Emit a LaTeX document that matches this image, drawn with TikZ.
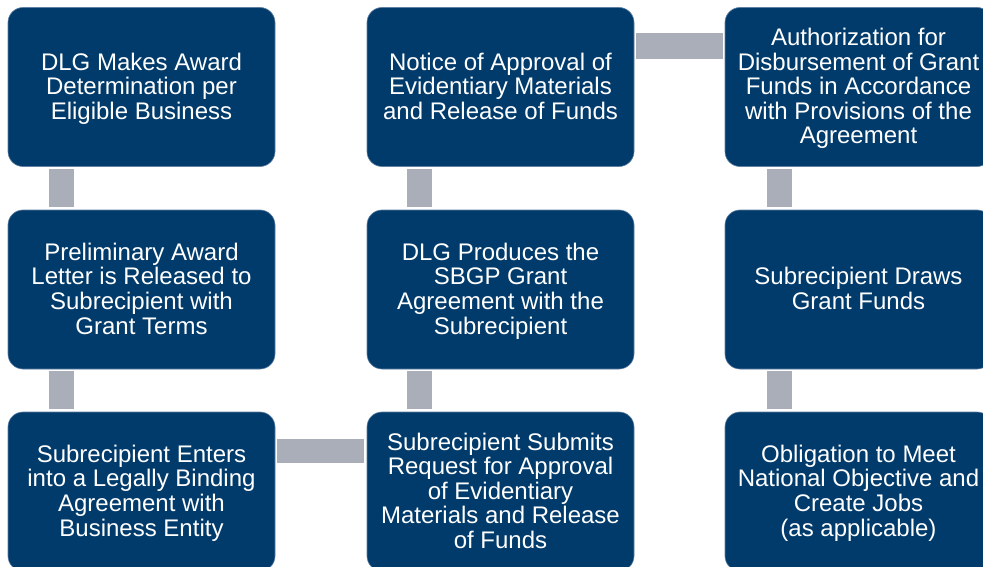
\documentclass[tikz,border=0pt]{standalone}
\usepackage{fontspec}
\setmainfont{Liberation Sans}
\definecolor{navy}{HTML}{003B6B}
\definecolor{navyedge}{HTML}{5F7FA3}
\definecolor{linkgray}{HTML}{A9AEB8}
\tikzset{
  stepbox/.style={rectangle, rounded corners=15pt, fill=navy, draw=navyedge,
    line width=0.6pt, minimum width=267pt, minimum height=159pt, inner sep=0pt},
  steptext/.style={text=white, align=center, inner sep=0pt,
    font=\fontsize{24pt}{24.6pt}\selectfont,
    execute at begin node=\strut, execute at end node=\strut},
  link/.style={draw=linkgray, line width=25pt, line cap=butt}
}
\begin{document}
\begin{tikzpicture}[x=1pt, y=-1pt]
  \clip (0,0) rectangle (983,567);
  \fill[white] (0,0) rectangle (983,567);

  % column 1
  \node[stepbox] (a1) at (141.5,87) {};
  \node[stepbox] (a2) at (141.5,289.5) {};
  \node[stepbox] (a3) at (141.5,491.5) {};
  % column 2
  \node[stepbox] (b1) at (500.5,87) {};
  \node[stepbox] (b2) at (500.5,289.5) {};
  \node[stepbox] (b3) at (500.5,491.5) {};
  % column 3
  \node[stepbox] (c1) at (858.5,87) {};
  \node[stepbox] (c2) at (858.5,289.5) {};
  \node[stepbox] (c3) at (858.5,491.5) {};

  % box labels (struts keep every block the same height per line count)
  \node[steptext] (ta1) at ([yshift=-2.7pt]a1.center) {DLG Makes Award\\Determination per\\Eligible Business};
  \node[steptext] (ta2) at ([yshift=-2.7pt]a2.center) {Preliminary Award\\Letter is Released to\\Subrecipient with\\Grant Terms};
  \node[steptext] (ta3) at ([yshift=-2.7pt]a3.center) {Subrecipient Enters\\into a Legally Binding\\Agreement with\\Business Entity};
  \node[steptext] (tb1) at ([yshift=-2.7pt]b1.center) {Notice of Approval of\\Evidentiary Materials\\and Release of Funds};
  \node[steptext] (tb2) at ([yshift=-2.7pt]b2.center) {DLG Produces the\\SBGP Grant\\Agreement with the\\Subrecipient};
  \node[steptext] (tb3) at ([yshift=-2.7pt]b3.center) {Subrecipient Submits\\Request for Approval\\of Evidentiary\\Materials and Release\\of Funds};
  \node[steptext] (tc1) at ([yshift=-2.7pt]c1.center) {Authorization for\\Disbursement of Grant\\Funds in Accordance\\with Provisions of the\\Agreement};
  \node[steptext] (tc2) at ([yshift=-2.7pt]c2.center) {Subrecipient Draws\\Grant Funds};
  \node[steptext] (tc3) at ([yshift=-2.7pt]c3.center) {Obligation to Meet\\National Objective and\\Create Jobs\\(as applicable)};

  % vertical links
  \draw[link] ([xshift=-80.5pt,yshift=-2pt]a1.south) -- ([xshift=-80.5pt,yshift=3pt]a2.north);
  \draw[link] ([xshift=-80.5pt,yshift=-2pt]a2.south) -- ([xshift=-80.5pt,yshift=3pt]a3.north);
  \draw[link] ([xshift=-81pt,yshift=-2pt]b1.south) -- ([xshift=-81pt,yshift=3pt]b2.north);
  \draw[link] ([xshift=-81pt,yshift=-2pt]b2.south) -- ([xshift=-81pt,yshift=3pt]b3.north);
  \draw[link] ([xshift=-79pt,yshift=-2pt]c1.south) -- ([xshift=-79pt,yshift=3pt]c2.north);
  \draw[link] ([xshift=-79pt,yshift=-2pt]c2.south) -- ([xshift=-79pt,yshift=3pt]c3.north);

  % horizontal links
  \draw[link, line width=26pt] ([xshift=2pt,yshift=41pt]b1.east) -- ([xshift=-2pt,yshift=41pt]c1.west);
  \draw[link, line width=24pt] ([xshift=2pt,yshift=40.5pt]a3.east) -- ([xshift=-3pt,yshift=40.5pt]b3.west);
\end{tikzpicture}
\end{document}
